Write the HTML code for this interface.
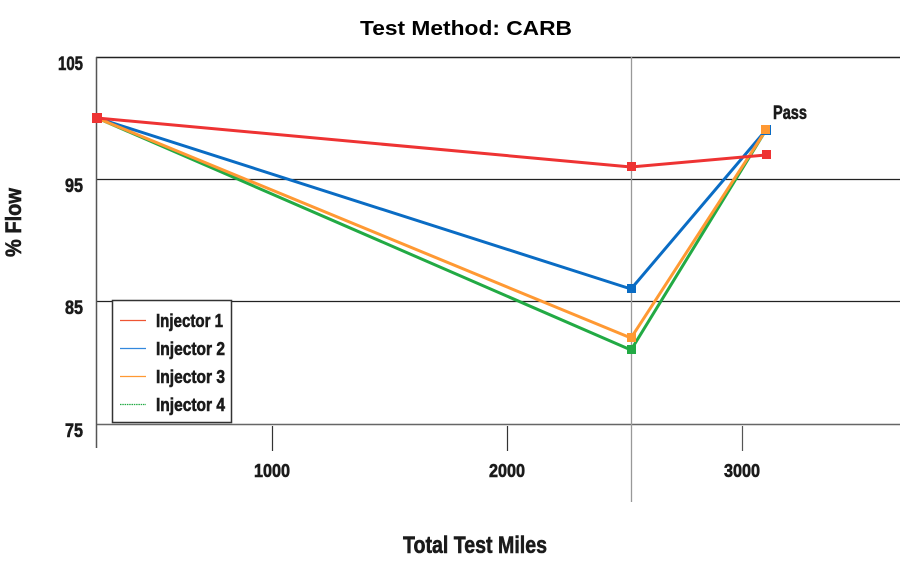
<!DOCTYPE html>
<html><head><meta charset="utf-8"><style>
html,body{margin:0;padding:0;background:#fff;}
svg{display:block;}
.c{font-family:"Liberation Sans Narrow","Liberation Sans",sans-serif;font-weight:bold;fill:#1a1a1a;stroke:#1a1a1a;stroke-width:0.6;}
</style></head><body>
<svg width="900" height="561" viewBox="0 0 900 561" xmlns="http://www.w3.org/2000/svg">
<rect width="900" height="561" fill="#fff"/>
<text x="466" y="35" text-anchor="middle" font-family="Liberation Sans, sans-serif" font-weight="bold" font-size="20" fill="#000" textLength="212" lengthAdjust="spacingAndGlyphs">Test Method: CARB</text>
<!-- grid -->
<line x1="96" y1="57.5" x2="900" y2="57.5" stroke="#222" stroke-width="1.5"/>
<line x1="96" y1="179.5" x2="900" y2="179.5" stroke="#222" stroke-width="1.3"/>
<line x1="96" y1="301.5" x2="900" y2="301.5" stroke="#222" stroke-width="1.3"/>
<line x1="96" y1="424.5" x2="900" y2="424.5" stroke="#666" stroke-width="1.5"/>
<line x1="96.5" y1="57" x2="96.5" y2="448" stroke="#555" stroke-width="1.5"/>
<line x1="631.5" y1="57" x2="631.5" y2="502" stroke="#999" stroke-width="1.3"/>
<line x1="272.5" y1="426" x2="272.5" y2="451" stroke="#333" stroke-width="1.2"/>
<line x1="507.5" y1="426" x2="507.5" y2="451" stroke="#333" stroke-width="1.2"/>
<line x1="742.5" y1="426" x2="742.5" y2="451" stroke="#555" stroke-width="1.2"/>
<!-- y labels -->
<text class="c" x="83" y="70" text-anchor="end" font-size="19" textLength="25" lengthAdjust="spacingAndGlyphs">105</text>
<text class="c" x="83" y="192" text-anchor="end" font-size="19" textLength="18" lengthAdjust="spacingAndGlyphs">95</text>
<text class="c" x="83" y="314" text-anchor="end" font-size="19" textLength="18" lengthAdjust="spacingAndGlyphs">85</text>
<text class="c" x="83" y="437" text-anchor="end" font-size="19" textLength="18" lengthAdjust="spacingAndGlyphs">75</text>
<!-- x labels -->
<text class="c" x="272" y="477" text-anchor="middle" font-size="18" textLength="36" lengthAdjust="spacingAndGlyphs">1000</text>
<text class="c" x="507" y="477" text-anchor="middle" font-size="18" textLength="36" lengthAdjust="spacingAndGlyphs">2000</text>
<text class="c" x="742" y="477" text-anchor="middle" font-size="18" textLength="36" lengthAdjust="spacingAndGlyphs">3000</text>
<text class="c" x="403" y="553" font-size="24" textLength="144" lengthAdjust="spacingAndGlyphs">Total Test Miles</text>
<text class="c" transform="translate(21,257) rotate(-90)" x="0" y="0" font-size="22" textLength="69" lengthAdjust="spacingAndGlyphs">% Flow</text>
<text class="c" x="773" y="119" font-size="19" textLength="34" lengthAdjust="spacingAndGlyphs">Pass</text>
<!-- series -->
<g fill="none" stroke-width="3" stroke-linejoin="round">
<polyline points="97,118 631,350 766,130" stroke="#22aa44"/>
<polyline points="97,118 631,289 766,130" stroke="#0a6cc4"/>
<polyline points="97,118 631,338 766,130" stroke="#ff9933"/>
<polyline points="97,118 631,167 766,155" stroke="#ee3333"/>
</g>
<rect x="627" y="345" width="9" height="9" fill="#22aa44"/>
<rect x="627" y="284" width="9" height="9" fill="#0a6cc4"/>
<rect x="627" y="333" width="9" height="9" fill="#ff9933"/>
<rect x="627" y="162" width="9" height="9" fill="#ee3333"/>
<rect x="761" y="125" width="10" height="10" fill="#0a6cc4"/>
<rect x="761" y="125" width="9" height="9" fill="#ff9933"/>
<rect x="762" y="150" width="9" height="9" fill="#ee3333"/>
<rect x="92" y="113" width="10" height="10" fill="#ee3333"/>
<!-- legend -->
<rect x="112.5" y="300.5" width="119" height="122" fill="#fff" stroke="#333" stroke-width="1.5"/>
<line x1="120" y1="320.5" x2="146" y2="320.5" stroke="#ee5533" stroke-width="1.3"/>
<line x1="120" y1="348.5" x2="146" y2="348.5" stroke="#3388dd" stroke-width="1.3"/>
<line x1="120" y1="376.5" x2="146" y2="376.5" stroke="#ff9933" stroke-width="1.3"/>
<line x1="120" y1="404.5" x2="146" y2="404.5" stroke="#22aa44" stroke-width="1.3" stroke-dasharray="1.5,0.8"/>
<text class="c" x="156" y="327" font-size="18" textLength="67" lengthAdjust="spacingAndGlyphs">Injector 1</text>
<text class="c" x="156" y="355" font-size="18" textLength="69" lengthAdjust="spacingAndGlyphs">Injector 2</text>
<text class="c" x="156" y="383" font-size="18" textLength="69" lengthAdjust="spacingAndGlyphs">Injector 3</text>
<text class="c" x="156" y="411" font-size="18" textLength="69" lengthAdjust="spacingAndGlyphs">Injector 4</text>
</svg>
</body></html>
